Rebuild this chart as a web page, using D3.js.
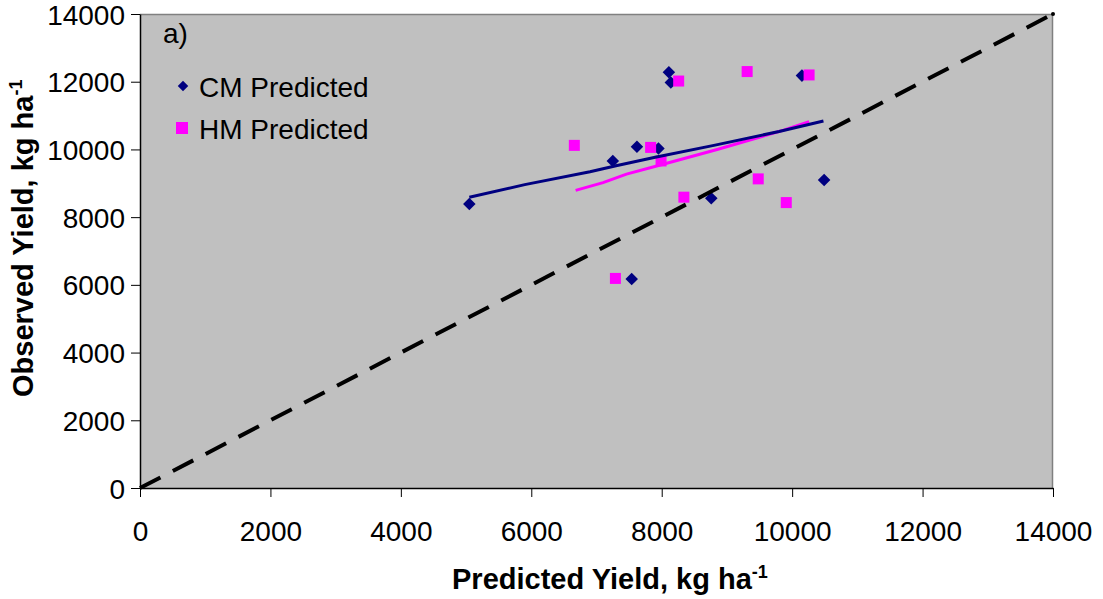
<!DOCTYPE html>
<html>
<head>
<meta charset="utf-8">
<script src="https://cdnjs.cloudflare.com/ajax/libs/d3/7.8.5/d3.min.js"></script>
<style>
	body { margin: 0; background: #ffffff; }
	text { font-family: "Liberation Sans", Arial, sans-serif; fill: #000000; }
</style>
</head>
<body>
<div id="chart"></div>
<script>
// observed vs predicted yield
let cmPredicted = [5050, 7250, 7620, 7950, 8110, 8140, 10150, 10490, 8760, 7540]
let cmObserved = [8390, 9660, 10080, 10030, 12280, 11980, 12180, 9100, 8560, 6170]

let hmPredicted = [6660, 7830, 7990, 8260, 9310, 10260, 9480, 9910, 8340, 7290]
let hmObserved = [10120, 10060, 9660, 12020, 12300, 12200, 9130, 8430, 8590, 6190]

// trend lines
let cmTrendX = [5050, 5900, 6900, 7300, 7900, 8800, 9800, 10480]
let cmTrendY = [8590, 8960, 9340, 9520, 9770, 10120, 10530, 10840]
let hmTrendX = [6680, 7100, 7460, 7980, 8850, 9870, 10260]
let hmTrendY = [8790, 9020, 9270, 9540, 10000, 10570, 10820]

// 1:1 line
let oneToOne = [0, 4000, 8000, 12000, 14000]

let ticks = [0, 2000, 4000, 6000, 8000, 10000, 12000, 14000]

function zip(xs, ys){
	return xs.map(function(d, i){ return {'x': d, 'y': ys[i]} })
}

function drawChart(){
	let margin = {top: 14, right: 50, bottom: 111, left: 140},
	width = 1103 - margin.left - margin.right,
	height = 599 - margin.top - margin.bottom;

	let svg = d3.select("#chart")
	  .append("svg")
	    .attr("width", 1103)
	    .attr("height", 599)
	  .append("g")
	    .attr("transform", "translate(" + margin.left + "," + margin.top + ")")

	let x = d3.scaleLinear().domain([0, 14000]).range([0, width])
	let y = d3.scaleLinear().domain([0, 14000]).range([height, 0])

	// plot area
	svg.append("rect")
	  .attr("width", width)
	  .attr("height", height)
	  .attr("fill", "#c0c0c0")

	svg.append("path")
	  .attr("d", "M0,0.5H" + (width - 0.5) + "V" + height)
	  .attr("fill", "none")
	  .attr("stroke", "#808080")
	  .attr("stroke-width", 1.5)

	// axes
	let xAxis = svg.append("g")
	  .attr("transform", "translate(0," + height + ")")
	  .call(d3.axisBottom(x).tickValues(ticks).tickFormat(d3.format("d")).tickSize(9).tickSizeOuter(0).tickPadding(24))
	let yAxis = svg.append("g")
	  .call(d3.axisLeft(y).tickValues(ticks).tickFormat(d3.format("d")).tickSize(9).tickSizeOuter(0).tickPadding(6))

	;[xAxis, yAxis].forEach(function(a){
		a.select(".domain").attr("stroke", "#000000").attr("stroke-width", 1.5)
		a.selectAll(".tick line").attr("stroke", "#000000")
		a.selectAll(".tick text")
		  .attr("font-family", "Liberation Sans, Arial, sans-serif")
		  .attr("font-size", 28)
		  .attr("fill", "#000000")
	})
	yAxis.selectAll(".tick text").attr("dy", "0.36em")

	let line = d3.line()
	  .x(function(d) { return x(d.x) })
	  .y(function(d) { return y(d.y) })

	// CM markers
	svg.selectAll("cm")
	  .data(zip(cmPredicted, cmObserved))
	  .enter()
	  .append("path")
	  .attr("d", d3.symbol().type(d3.symbolDiamond2).size(100))
	  .attr("transform", function(d){ return "translate(" + x(d.x) + "," + y(d.y) + ")" })
	  .attr("fill", "#000080")

	// HM markers
	svg.selectAll("hm")
	  .data(zip(hmPredicted, hmObserved))
	  .enter()
	  .append("rect")
	  .attr("x", function(d){ return x(d.x) - 5.5 })
	  .attr("y", function(d){ return y(d.y) - 5.5 })
	  .attr("width", 11)
	  .attr("height", 11)
	  .attr("fill", "#ff00ff")

	svg.append("path")
	  .datum(zip(oneToOne, oneToOne))
	  .attr("fill", "none")
	  .attr("stroke", "#000000")
	  .attr("stroke-width", 4)
	  .attr("stroke-dasharray", "23,14")
	  .attr("d", line)

	svg.append("circle")
	  .attr("cx", x(14000))
	  .attr("cy", y(14000))
	  .attr("r", 2)
	  .attr("fill", "#000000")

	svg.append("path")
	  .datum(zip(hmTrendX, hmTrendY))
	  .attr("fill", "none")
	  .attr("stroke", "#ff00ff")
	  .attr("stroke-width", 3)
	  .attr("d", line)

	svg.append("path")
	  .datum(zip(cmTrendX, cmTrendY))
	  .attr("fill", "none")
	  .attr("stroke", "#000080")
	  .attr("stroke-width", 3)
	  .attr("d", line)

	// legend
	svg.append("text").attr("x", 23).attr("y", 29).attr("font-size", 28).text("a)")

	svg.append("path")
	  .attr("d", d3.symbol().type(d3.symbolDiamond2).size(70))
	  .attr("transform", "translate(43,72)")
	  .attr("fill", "#000080")
	svg.append("text").attr("x", 59).attr("y", 83).attr("font-size", 28).text("CM Predicted")

	svg.append("rect")
	  .attr("x", 36).attr("y", 108).attr("width", 12).attr("height", 12)
	  .attr("fill", "#ff00ff")
	svg.append("text").attr("x", 59).attr("y", 125).attr("font-size", 28).text("HM Predicted")

	// axis titles
	let xt = svg.append("text")
	  .attr("x", 312)
	  .attr("y", 575)
	  .attr("font-size", 29)
	  .attr("font-weight", "bold")
	xt.append("tspan").text("Predicted Yield, kg ha")
	xt.append("tspan").attr("font-size", 18).attr("dy", -11).text("-1")

	let yt = svg.append("text")
	  .attr("transform", "translate(-107,383) rotate(-90)")
	  .attr("font-size", 29)
	  .attr("font-weight", "bold")
	yt.append("tspan").text("Observed Yield, kg ha")
	yt.append("tspan").attr("font-size", 18).attr("dy", -11).text("-1")
}

drawChart()
</script>
</body>
</html>
